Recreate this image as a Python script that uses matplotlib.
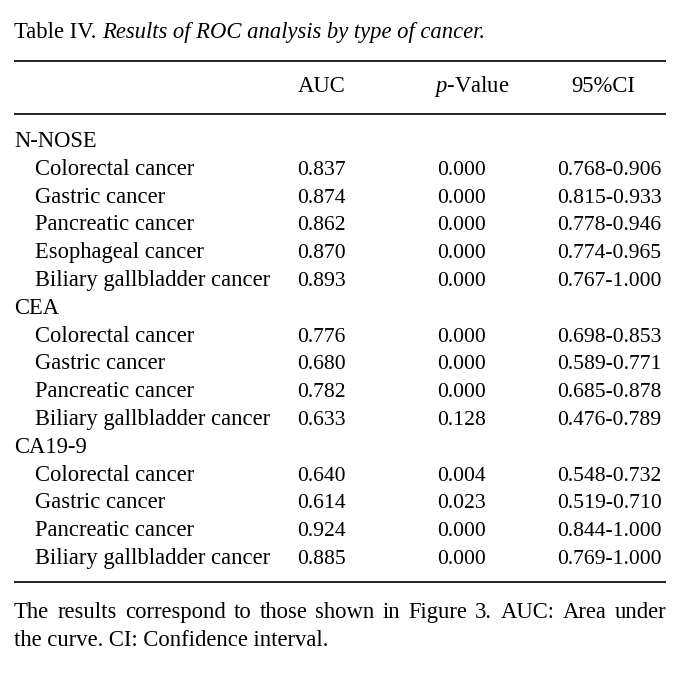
import matplotlib
matplotlib.use("Agg")
import matplotlib.pyplot as plt

# ---- data ----
title_prefix = "Table IV."
title_text = "Results of ROC analysis by type of cancer."
col_headers = ["AUC", "$p$-Value", "95%CI"]

groups = ["N-NOSE", "CEA", "CA19-9"]
nnose_types = ["Colorectal cancer", "Gastric cancer", "Pancreatic cancer",
               "Esophageal cancer", "Biliary gallbladder cancer"]
nnose_auc = ["0.837", "0.874", "0.862", "0.870", "0.893"]
nnose_p = ["0.000", "0.000", "0.000", "0.000", "0.000"]
nnose_ci = ["0.768-0.906", "0.815-0.933", "0.778-0.946", "0.774-0.965", "0.767-1.000"]

cea_types = ["Colorectal cancer", "Gastric cancer", "Pancreatic cancer",
             "Biliary gallbladder cancer"]
cea_auc = ["0.776", "0.680", "0.782", "0.633"]
cea_p = ["0.000", "0.000", "0.000", "0.128"]
cea_ci = ["0.698-0.853", "0.589-0.771", "0.685-0.878", "0.476-0.789"]

ca199_types = ["Colorectal cancer", "Gastric cancer", "Pancreatic cancer",
               "Biliary gallbladder cancer"]
ca199_auc = ["0.640", "0.614", "0.924", "0.885"]
ca199_p = ["0.004", "0.023", "0.000", "0.000"]
ca199_ci = ["0.548-0.732", "0.519-0.710", "0.844-1.000", "0.769-1.000"]

footnote_lines = ["The results correspond to those shown in Figure 3. AUC: Area under",
                  "the curve. CI: Confidence interval."]

# ---- layout ----
W, H = 685, 674
fig = plt.figure(figsize=(W / 100, H / 100), dpi=100)
ax = fig.add_axes([0, 0, 1, 1])
ax.set_xlim(0, W)
ax.set_ylim(H, 0)
ax.axis("off")

FONT = "Liberation Serif"
fs = 16.3
fs_num = 15.6
plt.rcParams["mathtext.fontset"] = "custom"
plt.rcParams["mathtext.it"] = "Liberation Serif:italic"
plt.rcParams["mathtext.rm"] = "Liberation Serif"

left, right = 14, 666
fig.canvas.draw()
renderer = fig.canvas.get_renderer()

def txt(x, y, s, ha="left", size=fs, **kw):
    return ax.text(x, y, s, fontsize=size, family=FONT, va="baseline", ha=ha, **kw)

# title
t1 = txt(left, 38, title_prefix + " ")
bb = t1.get_window_extent(renderer)
txt(left + bb.width, 38, title_text, style="italic")

# rules
for y in [61, 113.5, 582]:
    ax.plot([left, right], [y, y], color="#222222", lw=1.4, solid_capstyle="butt")

# header
hdr_x = [322, 472, 603]
for x, h in zip(hdr_x, col_headers):
    txt(x, 92, h, ha="center")

# body
auc_x, p_x, ci_x = 297, 437.5, 557
y0, dy = 147, 27.8
row = 0
blocks = [(groups[0], nnose_types, nnose_auc, nnose_p, nnose_ci),
          (groups[1], cea_types, cea_auc, cea_p, cea_ci),
          (groups[2], ca199_types, ca199_auc, ca199_p, ca199_ci)]
for g, types, aucs, ps, cis in blocks:
    txt(left, y0 + row * dy, g)
    row += 1
    for tname, a, p, c in zip(types, aucs, ps, cis):
        y = y0 + row * dy
        txt(35, y, tname)
        txt(auc_x, y, a, size=fs_num)
        txt(p_x, y, p, size=fs_num)
        txt(ci_x, y, c, size=fs_num)
        row += 1

# footnote (first line justified)
def draw_justified(line, y, justify):
    words = line.split(" ")
    if not justify:
        txt(left, y, line)
        return
    widths = []
    for w in words:
        t = ax.text(0, 0, w, fontsize=fs, family=FONT)
        widths.append(t.get_window_extent(renderer).width)
        t.remove()
    gap = (right - left - sum(widths)) / (len(words) - 1)
    x = left
    for w, wd in zip(words, widths):
        txt(x, y, w)
        x += wd + gap

draw_justified(footnote_lines[0], 618, True)
draw_justified(footnote_lines[1], 646, False)

fig.savefig("out.png", dpi=100)
